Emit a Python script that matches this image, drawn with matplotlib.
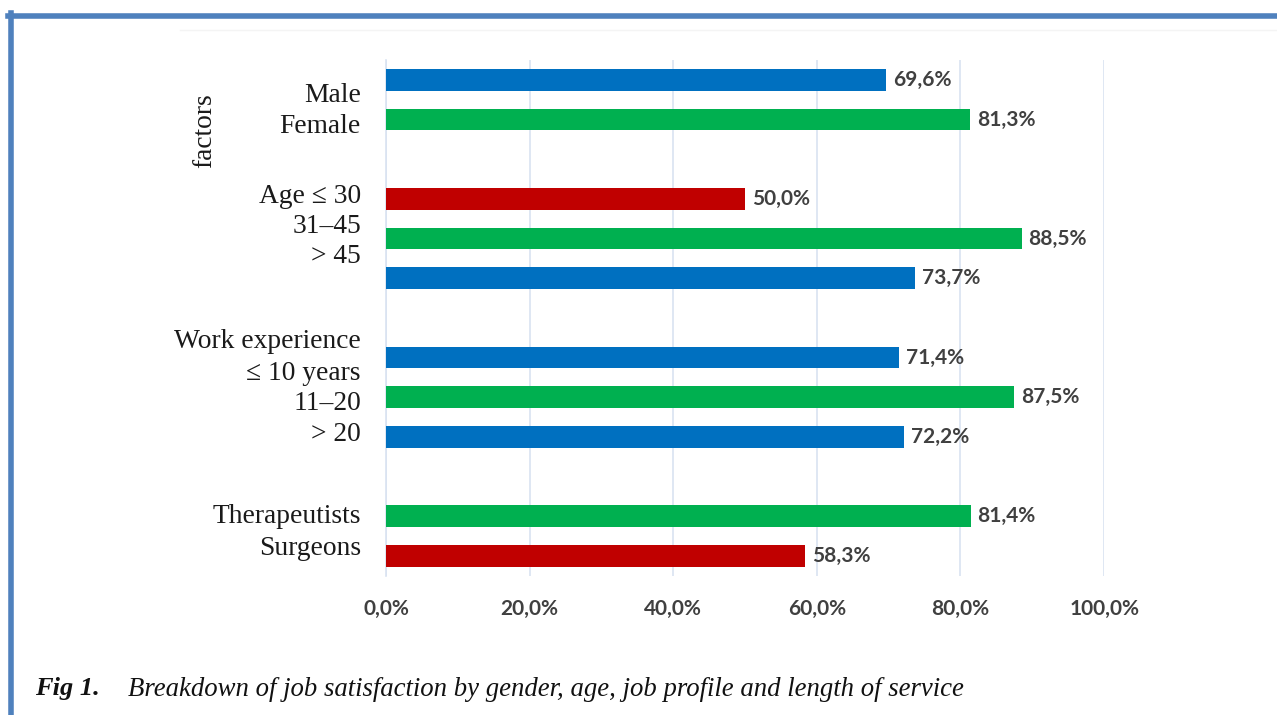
import matplotlib
matplotlib.use("Agg")
import matplotlib.pyplot as plt
from matplotlib.lines import Line2D
from matplotlib.transforms import blended_transform_factory

# Job satisfaction shares (%) by group
groups = ["gender", "age", "experience", "profile"]
group_sizes = [2, 3, 3, 2]
values = [69.6, 81.3, 50.0, 88.5, 73.7, 71.4, 87.5, 72.2, 81.4, 58.3]
bar_colors = ["#0070C0", "#00B050", "#C00000", "#00B050", "#0070C0",
              "#0070C0", "#00B050", "#0070C0", "#00B050", "#C00000"]
value_labels = ["69,6%", "81,3%", "50,0%", "88,5%", "73,7%",
                "71,4%", "87,5%", "72,2%", "81,4%", "58,3%"]

# Category text block on the left
category_lines = ["Male", "Female", "Age \u2264 30", "31\u201345", "> 45",
                  "Work experience", "\u2264 10 years", "11\u201320", "> 20",
                  "Therapeutists", "Surgeons"]
category_line_y = [0.40, 1.18, 2.95, 3.70, 4.46, 6.60, 7.41, 8.16, 8.94, 11.0, 11.81]

x_ticks = [0, 20, 40, 60, 80, 100]
x_tick_labels = ["0,0%", "20,0%", "40,0%", "60,0%", "80,0%", "100,0%"]

caption_tag = "Fig 1."
caption_text = "Breakdown of job satisfaction by gender, age, job profile and length of service"

# bar slots: groups separated by one empty slot
positions = []
slot = 0
for n in group_sizes:
    positions.extend(range(slot, slot + n))
    slot += n + 1

serif = ["Liberation Serif", "DejaVu Serif"]
label_font = ["Lato", "DejaVu Sans"]

fig = plt.figure(figsize=(12.77, 7.15), dpi=100)
ax = fig.add_axes([0.3023, 0.1948, 0.5623, 0.7213])

ax.barh(positions, values, height=0.55, color=bar_colors, zorder=3)
ax.set_ylim(12.5, -0.5)
ax.set_xlim(0, 100)

grid_color = "#D9E3F1"
ax.set_xticks(x_ticks)
ax.set_xticklabels(x_tick_labels, fontfamily=label_font, fontweight="bold",
                   fontsize=15, color="#404040")
ax.tick_params(axis="x", length=0, pad=17)
ax.set_yticks([])
ax.grid(axis="x", color=grid_color, linewidth=1.2, zorder=0)
for side in ["top", "right", "bottom"]:
    ax.spines[side].set_visible(False)
ax.spines["left"].set_color(grid_color)
ax.spines["left"].set_linewidth(1.2)

for y, v, lab in zip(positions, values, value_labels):
    ax.annotate(lab, (v, y), xytext=(5, 0), textcoords="offset points",
                va="center", ha="left", fontfamily=label_font,
                fontweight="bold", fontsize=15, color="#404040")

tr = blended_transform_factory(ax.transAxes, ax.transData)
for text, y in zip(category_lines, category_line_y):
    ax.text(-0.035, y, text, transform=tr, ha="right", va="center",
            fontfamily=serif, fontsize=19.8, color="#1a1a1a")
ax.text(-0.252, 1.29, "factors", transform=tr, ha="center", va="center",
        rotation=90, fontfamily=serif, fontsize=19.8, color="#1a1a1a")

# caption
fig.text(35 / 1277, 1 - 689 / 715, caption_tag, ha="left", va="center",
         fontfamily=serif, fontstyle="italic", fontweight="bold", fontsize=19,
         color="#111111")
fig.text(128 / 1277, 1 - 689 / 715, caption_text, ha="left", va="center",
         fontfamily=serif, fontstyle="italic", fontsize=19.3, color="#111111")

# page frame
frame_color = "#4F81BD"
fig.add_artist(Line2D([8 / 1277, 1.0], [1 - 15.5 / 715, 1 - 15.5 / 715],
                      transform=fig.transFigure, color=frame_color, linewidth=4))
fig.add_artist(Line2D([11 / 1277, 11 / 1277], [0.0, 1 - 13 / 715],
                      transform=fig.transFigure, color=frame_color, linewidth=4))
fig.add_artist(Line2D([180 / 1277, 1.0], [1 - 30 / 715, 1 - 30 / 715],
                      transform=fig.transFigure, color="#F4F4F4", linewidth=1))

fig.savefig("out.png", dpi=100, facecolor="white")
